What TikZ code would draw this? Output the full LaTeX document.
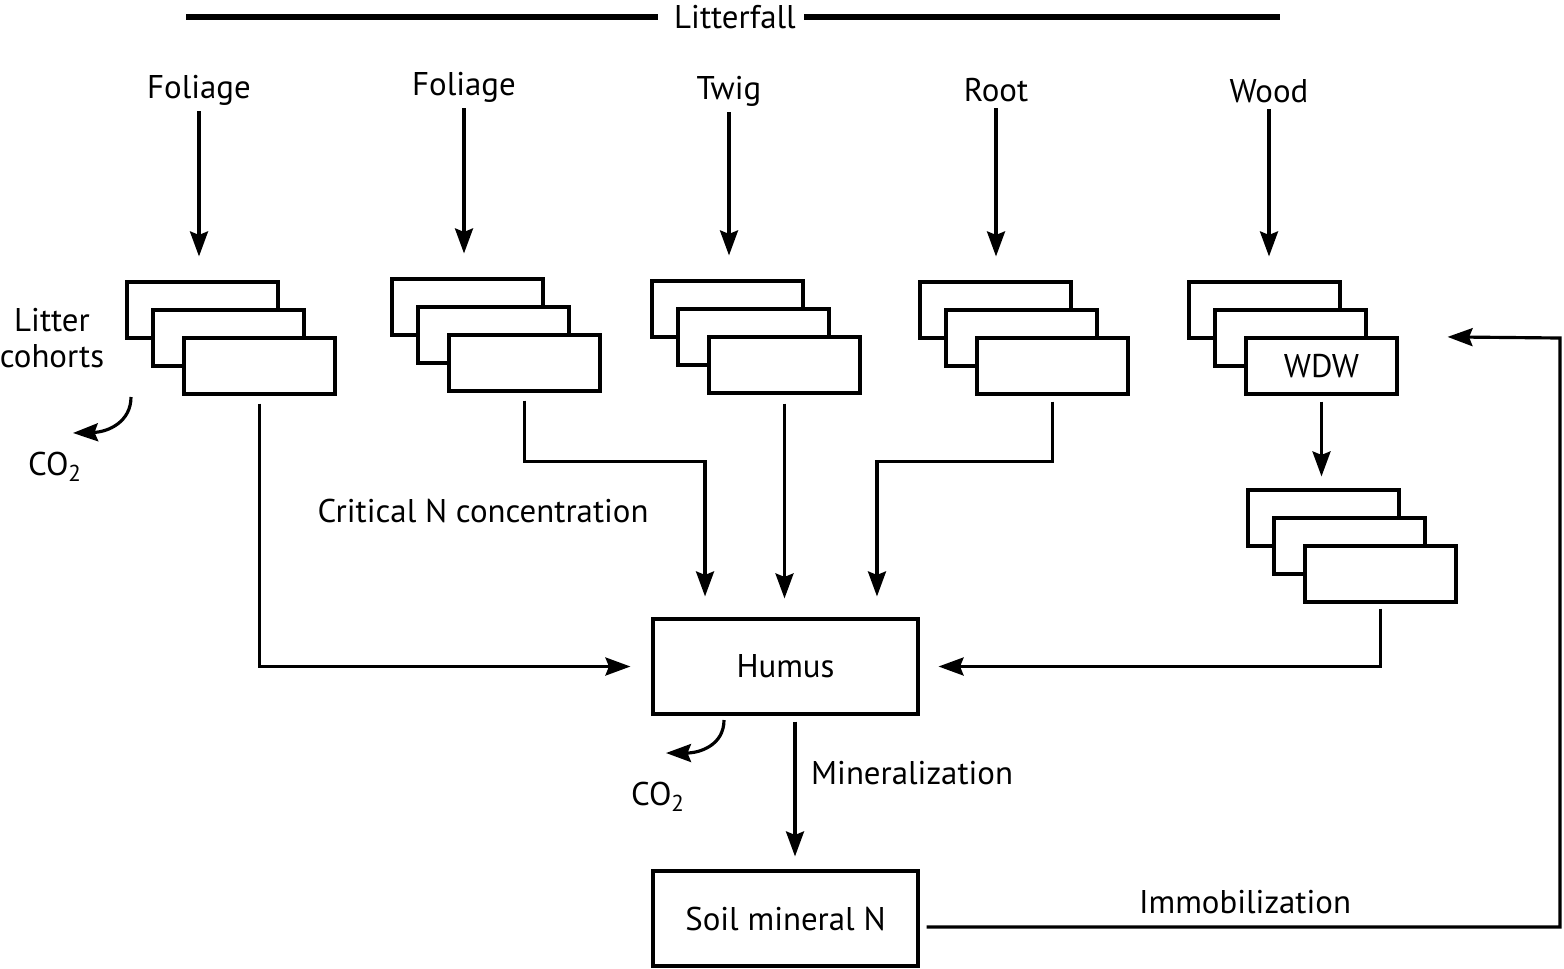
\documentclass[tikz,border=0pt]{standalone}
\usepackage{fontspec}
\setmainfont{PT Sans}
\usetikzlibrary{arrows.meta}

\begin{document}
\begin{tikzpicture}[
    x=0.02cm, y=-0.02cm,
    every node/.style={font=\fontsize{18.7}{20}\selectfont},
    box/.style={rectangle, draw, fill=white, line width=1.8pt, minimum width=3.02cm, minimum height=1.12cm},
    pool/.style={rectangle, draw, line width=1.8pt, minimum width=5.3cm, minimum height=1.9cm},
    arrow/.style={-{Stealth[length=0.5cm, width=0.36cm, inset=0.07cm]}, line width=1.8pt},
    bar/.style={line width=3.2pt}
]
    \useasboundingbox (0,0) rectangle (1564,968);

    % litterfall bar
    \node (lf) at (735,17) {Litterfall};
    \coordinate (lfL) at (186,17);
    \coordinate (lfR) at (1280,17);
    \draw[bar, shorten >=0.2cm] (lfL) -- (lf.west);
    \draw[bar, shorten <=0.05cm] (lf.east) -- (lfR);

    \node (lfol1) at (199,90) {Foliage};
    \node (lfol2) at (464,87) {Foliage};
    \node (ltwig) at (729,91) {Twig};
    \node (lroot) at (996,90) {Root};
    \node (lwood) at (1269,91) {Wood};

    % cohort stacks
    \node[box] (fol1a) at (202.5,310) {};
    \node[box] (fol1b) at (228.5,338) {};
    \node[box] (fol1c) at (259.5,366) {};

    \node[box] (fol2a) at (467.5,307) {};
    \node[box] (fol2b) at (493.5,335) {};
    \node[box] (fol2c) at (524.5,363) {};

    \node[box] (twga) at (727.5,309) {};
    \node[box] (twgb) at (753.5,337) {};
    \node[box] (twgc) at (784.5,365) {};

    \node[box] (rota) at (995.5,310) {};
    \node[box] (rotb) at (1021.5,338) {};
    \node[box] (rotc) at (1052.5,366) {};

    \node[box] (wooda) at (1264.5,310) {};
    \node[box] (woodb) at (1290.5,338) {};
    \node[box] (wdw) at (1321.5,366) {WDW};

    \node[box] (dwa) at (1323.5,518) {};
    \node[box] (dwb) at (1349.5,546) {};
    \node[box] (dwc) at (1380.5,574) {};

    \node[pool] (humus) at (785.5,666.5) {Humus};
    \node[pool] (soil) at (785.5,918.5) {Soil mineral N};

    % litterfall inputs
    \draw[arrow, shorten >=0.48cm] (lfol1.south) -- (lfol1.south |- fol1a.north);
    \draw[arrow, shorten >=0.48cm] (lfol2.south) -- (lfol2.south |- fol2a.north);
    \draw[arrow, shorten >=0.48cm] (ltwig.south) -- (ltwig.south |- twga.north);
    \draw[arrow, shorten >=0.48cm] (lroot.south) -- (lroot.south |- rota.north);
    \draw[arrow, shorten >=0.48cm] (lwood.south) -- (lwood.south |- wooda.north);

    % transfers to humus
    \draw[arrow, shorten <=0.16cm, shorten >=0.42cm] (fol1c.south) |- (humus.west);
    \draw[arrow, shorten <=0.16cm, shorten >=0.42cm] (fol2c.south) -- ++(0,69) -| ([xshift=-1.61cm]humus.north);
    \draw[arrow, shorten <=0.18cm, shorten >=0.38cm] (twgc.south) -- (twgc.south |- humus.north);
    \draw[arrow, shorten <=0.12cm, shorten >=0.42cm] (rotc.south) -- ++(0,66) -| ([xshift=1.83cm]humus.north);
    \draw[arrow, shorten <=0.12cm, shorten >=0.24cm] (wdw.south) -- (wdw.south |- dwa.north);
    \draw[arrow, shorten <=0.1cm, shorten >=0.38cm] (dwc.south) |- (humus.east);
    \draw[arrow, shorten <=0.12cm, shorten >=0.26cm] ([xshift=0.19cm]humus.south) -- ([xshift=0.19cm]soil.north);

    % immobilization
    \coordinate (turn) at (1560,338);
    \draw[arrow, shorten <=0.14cm, shorten >=0.98cm] ([yshift=-0.17cm]soil.east) -| (turn) -- (wdw.north east);

    \node (immob) at (1245,902) {Immobilization};
    \node[anchor=west] (mineral) at (805,773) {Mineralization};
    \node (critical) at (483,511) {Critical N concentration};
    \node[align=center] (cohorts) at (52,338) {Litter\\cohorts};

    % respiration
    \node (co2a) at (55,467) {CO\textsubscript{2}};
    \node (co2b) at (658,797) {CO\textsubscript{2}};
    \coordinate (resp1) at (131,397);
    \coordinate (out1) at (73,433);
    \coordinate (resp2) at (724,720);
    \coordinate (out2) at (666,753);
    \draw[arrow] (resp1) .. controls (131,422) and (108,432) .. (out1);
    \draw[arrow] (resp2) .. controls (724,745) and (700,753) .. (out2);
\end{tikzpicture}
\end{document}
